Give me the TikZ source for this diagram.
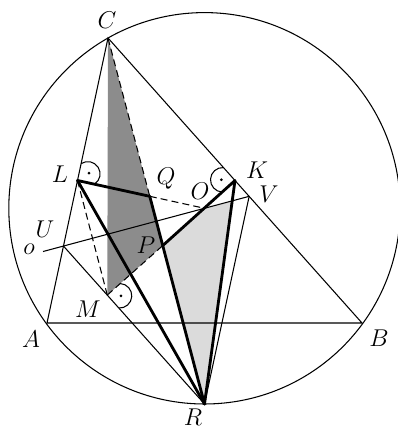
\documentclass[tikz,border=0pt]{standalone}
\usetikzlibrary{calc}
\tikzset{
  thinline/.style={line width=0.9pt},
  thickline/.style={line width=2.4pt, line cap=round, line join=round},
  dashline/.style={line width=0.9pt, dash pattern=on 6pt off 3.5pt},
  lab/.style={font=\fontsize{22}{26}\selectfont, inner sep=0pt},
  darkfill/.style={fill=black!45},
  lightfill/.style={fill=black!14}
}
\newcommand\rmark[3]{%
  \draw[thinline] let \p1=($(#2)-(#1)$), \n1={atan2(\y1,\x1)} in
    ($(#1)!0.52cm!(#2)$) arc[start angle=\n1-45, end angle=\n1+135, radius=0.368cm];
  \fill let \p1=($(#2)-(#1)$), \n1={atan2(\y1,\x1)} in
    ($(#1)+(\n1+45:0.41cm)$) circle[radius=1.3pt];}
\begin{document}
\begin{tikzpicture}[x=0.03cm,y=0.03cm]
\useasboundingbox (0,0) rectangle (397,430);
\coordinate (A) at (47,107);
\coordinate (B) at (362,107);
\coordinate (C) at (108,392);
\coordinate (R) at (204.5,26);
\coordinate (O) at (204.5,221.7);
\coordinate (L) at ($(A)!0.5!(C)$);
\coordinate (K) at ($(B)!0.5!(C)$);
\coordinate (U) at ($(A)!0.27!(C)$);
\coordinate (V) at (intersection of U--O and B--C);
\coordinate (M) at ($(U)!(O)!(R)$);
\coordinate (Q) at (intersection of L--O and C--R);
\coordinate (P) at (intersection of M--O and C--R);
\coordinate (Y) at (intersection of U--O and K--R);
\coordinate (o) at ($(U)!-0.11!(V)$);
% shading
\fill[darkfill] (C) -- (Q) -- (P) -- (M) -- cycle;
\fill[lightfill] (P) -- (O) -- (Y) -- (R) -- cycle;
% thin lines
\draw[thinline] (O) circle[radius=195.7];
\draw[thinline] (A) -- (B) -- (C) -- cycle;
\draw[thinline] (o) -- (V);
\draw[thinline] (U) -- (R);
\draw[thinline] (V) -- (R);
% dashed
\draw[dashline] (C) -- (Q);
\draw[dashline] (Q) -- (O);
\draw[dashline] (L) -- (M);
\draw[dashline] (M) -- (P);
% thick
\draw[thickline] (L) -- (Q) -- (R);
\draw[thickline] (L) -- (R);
\draw[thickline] (P) -- (K) -- (R);
% right angle marks
\rmark{L}{O}{C}
\rmark{K}{C}{O}
\rmark{M}{R}{O}
% labels
\node[lab] (lC) at (107,410) {$C$};
\node[lab] (lL) at (60,256) {$L$};
\node[lab] (lQ) at (166,251) {$Q$};
\node[lab] (lO) at (200,239) {$O$};
\node[lab] (lK) at (257,260) {$K$};
\node[lab] (lV) at (269,236) {$V$};
\node[lab] (lU) at (45,201) {$U$};
\node[lab] (lo) at (29,181) {$o$};
\node[lab] (lP) at (146,185) {$P$};
\node[lab] (lM) at (88,121) {$M$};
\node[lab] (lA) at (31,91) {$A$};
\node[lab] (lB) at (379,92) {$B$};
\node[lab] (lR) at (193,13) {$R$};
\end{tikzpicture}
\end{document}
